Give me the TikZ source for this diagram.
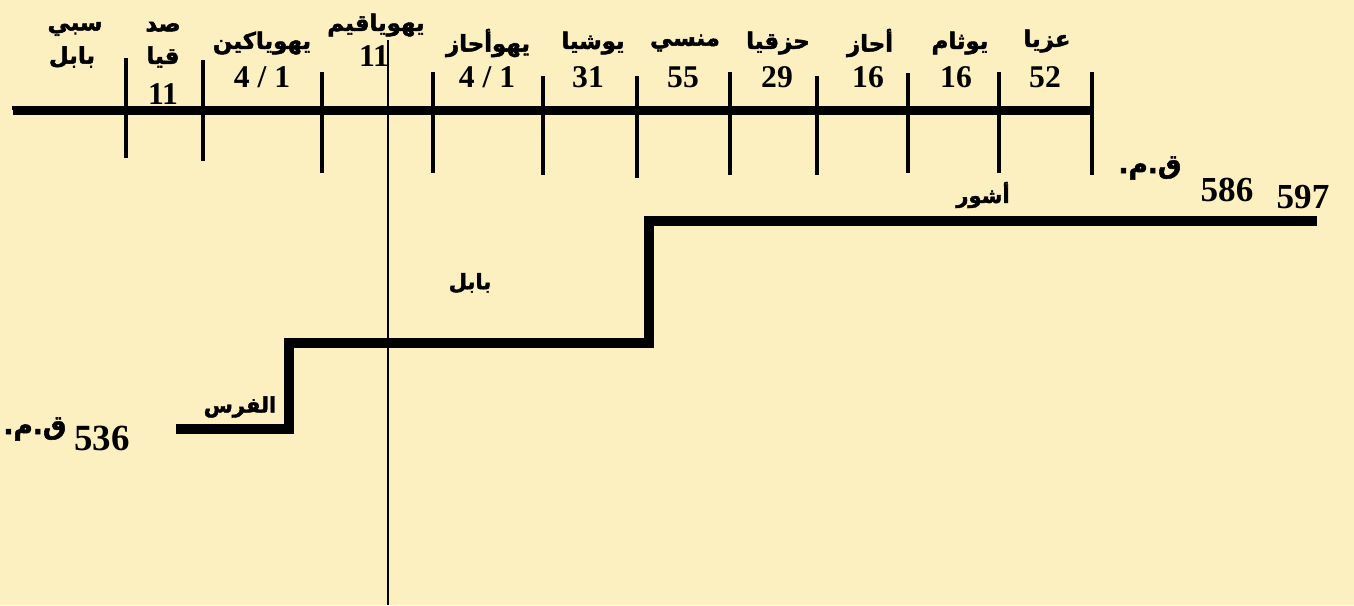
\documentclass[tikz,border=0pt]{standalone}
\usepackage{fontspec}
\setmainfont{Liberation Serif}
\newfontfamily\arabicfont[Script=Arabic, FakeBold=2]{DejaVu Sans Bold}
\TeXXeTstate=1
\newcommand{\ar}[1]{\beginR #1\endR}
\definecolor{paper}{RGB}{252,239,192}
\definecolor{shade}{RGB}{168,160,128}
\tikzset{
  king/.style={font=\arabicfont\fontsize{13}{15}\selectfont, inner sep=0pt},
  reign/.style={font=\bfseries\fontsize{18}{20}\selectfont, inner sep=0pt},
  empire/.style={font=\arabicfont\fontsize{12}{14}\selectfont, inner sep=0pt},
  bigyear/.style={font=\bfseries\fontsize{20}{22}\selectfont, inner sep=0pt},
  era/.style={line width=6.2pt, miter limit=10},
}

\begin{document}
\begin{tikzpicture}[x=0.02cm, y=-0.02cm]
            \fill[paper] (0,0) rectangle (1354,605);
            % the time axis with its shadow
            \draw[shade, line width=3pt] (13,112.5) -- (1092,112.5);
            \foreach \x/\t/\b in {126/58/155, 203/60/158, 322/72/170, 433/72/170, 543/76/172,
                                  637/76/175, 730/72/172, 817/76/172, 908/73/170, 999/72/170, 1092/72/172} {
                \draw[shade, line width=2.8pt] (\x,\b-1) -- ++(0,4);
                \draw[black, line width=2.8pt] (\x,\t) -- (\x,\b);
            }
            \draw[black, line width=2.8pt] (12,108) -- (1092,108);
            % the line of the year 597
            \draw[black, line width=1.1pt] (388,40) -- (388,605);
            % kings and years of reign
            \node[king] (sabi) at (75,29) {\ar{سبي}};
            \node[king] (sabi2) at (72,57) {\ar{بابل}};
            \node[king] (sidqia) at (163,27) {\ar{صد}};
            \node[king] (sidqia2) at (163,57) {\ar{قيا}};
            \node[reign] (sidqia-y) at (163,94) {11};
            \node[king] (yoyakin) at (262,43) {\ar{يهوياكين}};
            \node[reign] (yoyakin-y) at (262,77) {4 / 1};
            \node[king] (yoyakim) at (376,25) {\ar{يهوياقيم}};
            \node[reign] (yoyakim-y) at (374,56) {11};
            \node[king] (yoahaz) at (488,43) {\ar{يهوأحاز}};
            \node[reign] (yoahaz-y) at (487,77) {4 / 1};
            \node[king] (yoshia) at (593,43) {\ar{يوشيا}};
            \node[reign] (yoshia-y) at (588,77) {31};
            \node[king] (manasi) at (685,43) {\ar{منسي}};
            \node[reign] (manasi-y) at (683,77) {55};
            \node[king] (hizqia) at (778,43) {\ar{حزقيا}};
            \node[reign] (hizqia-y) at (777,77) {29};
            \node[king] (ahaz) at (870,43) {\ar{أحاز}};
            \node[reign] (ahaz-y) at (868,77) {16};
            \node[king] (yotham) at (960,43) {\ar{يوثام}};
            \node[reign] (yotham-y) at (956,77) {16};
            \node[king] (uzzia) at (1047,41) {\ar{عزيا}};
            \node[reign] (uzzia-y) at (1045,77) {52};
            % empires
            \draw[era] (176,429) -- (289,429) -- (289,343) -- (649,343) -- (649,221) -- (1317,221);
            \node[empire] (ashur) at (983,195) {\ar{أشور}};
            \node[empire] (babel) at (470,283) {\ar{بابل}};
            \node[empire] (furs) at (240,407) {\ar{الفرس}};
            \node[king, font=\arabicfont\fontsize{15}{17}\selectfont] (bc-top) at (1150,168) {\ar{ق.م.}};
            \node[bigyear] (y586) at (1227,190) {586};
            \node[bigyear] (y597) at (1303,197) {597};
            \node[king, font=\arabicfont\fontsize{15}{17}\selectfont] (bc-low) at (35,429) {\ar{ق.م.}};
            \node[bigyear, font=\bfseries\fontsize{21}{23}\selectfont] (y536) at (102,438) {536};
\end{tikzpicture}
\end{document}
